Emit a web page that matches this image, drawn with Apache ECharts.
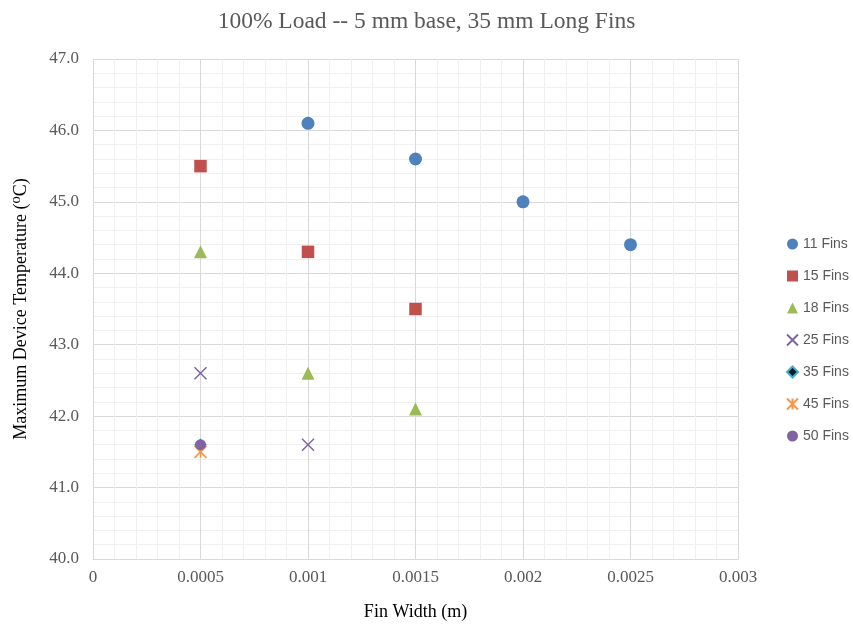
<!DOCTYPE html>
<html>
<head>
<meta charset="utf-8">
<script src="https://cdn.jsdelivr.net/npm/echarts@6/dist/echarts.min.js"></script>
<style>
html,body{margin:0;padding:0;background:#fff;}
#chart{width:853px;height:627px;}
</style>
</head>
<body>
<div id="chart"></div>
<script>
// Fin width (m) and maximum device temperature (°C) for each fin count
const fins11 = [[0.001, 46.1], [0.0015, 45.6], [0.002, 45.0], [0.0025, 44.4]];
const fins15 = [[0.0005, 45.5], [0.001, 44.3], [0.0015, 43.5]];
const fins18 = [[0.0005, 44.3], [0.001, 42.6], [0.0015, 42.1]];
const fins25 = [[0.0005, 42.6], [0.001, 41.6]];
const fins35 = [[0.0005, 41.6]];
const fins45 = [[0.0005, 41.5]];
const fins50 = [[0.0005, 41.6]];
const seriesNames = ['11 Fins', '15 Fins', '18 Fins', '25 Fins', '35 Fins', '45 Fins', '50 Fins'];
const xTicks = [0, 0.0005, 0.001, 0.0015, 0.002, 0.0025, 0.003];

const serif = '"Liberation Serif", "DejaVu Serif", serif';
const sans = '"Liberation Sans", Arial, sans-serif';

const crossPath = 'path://M0,0L10,10M10,0L0,10';
const starPath = 'path://M0,0L10,10M10,0L0,10M5,0L5,10';

const chart = echarts.init(document.getElementById('chart'));
chart.setOption({
  animation: false,
  backgroundColor: '#ffffff',
  title: {
    text: '100% Load -- 5 mm base, 35 mm Long Fins',
    left: 'center',
    top: 5,
    textStyle: { fontFamily: serif, fontSize: 23.5, fontWeight: 'normal', color: '#595959' }
  },
  grid: { left: 93, right: 115, top: 59, bottom: 68 },
  legend: {
    orient: 'vertical',
    left: 781,
    top: 232,
    itemWidth: 11,
    itemHeight: 11,
    itemGap: 18,
    textStyle: { fontFamily: sans, fontSize: 14, lineHeight: 14, color: '#595959' },
    data: seriesNames
  },
  xAxis: {
    type: 'value',
    min: 0,
    max: 0.003,
    interval: 0.0005,
    name: 'Fin Width (m)',
    nameLocation: 'middle',
    nameGap: 44,
    nameTextStyle: { fontFamily: serif, fontSize: 18, color: '#000' },
    axisLine: { show: true, lineStyle: { color: '#d9d9d9' } },
    axisTick: { show: false },
    axisLabel: {
      fontFamily: serif, fontSize: 17, color: '#595959', margin: 10,
      formatter: v => {
        const t = xTicks.find(x => Math.abs(x - v) < 1e-9);
        return t === undefined ? '' : String(t);
      }
    },
    splitLine: { show: true, lineStyle: { color: '#d9d9d9', width: 1 } },
    minorTick: { show: false, splitNumber: 5 },
    minorSplitLine: { show: true, lineStyle: { color: '#f0f0f0', width: 1 } }
  },
  yAxis: {
    type: 'value',
    min: 40,
    max: 47,
    interval: 1,
    name: 'Maximum Device Temperature (⁰C)',
    nameLocation: 'middle',
    nameGap: 63,
    nameTextStyle: { fontFamily: serif, fontSize: 18, color: '#000' },
    axisLine: { show: true, lineStyle: { color: '#d9d9d9' } },
    axisTick: { show: false },
    axisLabel: {
      fontFamily: serif, fontSize: 17, color: '#595959', margin: 14,
      formatter: v => v.toFixed(1)
    },
    splitLine: { show: true, lineStyle: { color: '#d9d9d9', width: 1 } },
    minorTick: { show: false, splitNumber: 5 },
    minorSplitLine: { show: true, lineStyle: { color: '#f0f0f0', width: 1 } }
  },
  series: [
    { name: '11 Fins', type: 'scatter', data: fins11, symbol: 'circle', symbolSize: 13,
      itemStyle: { color: '#4F81BD', opacity: 1 } },
    { name: '15 Fins', type: 'scatter', data: fins15, symbol: 'rect', symbolSize: 12.5,
      itemStyle: { color: '#C0504D', opacity: 1 } },
    { name: '18 Fins', type: 'scatter', data: fins18, symbol: 'triangle', symbolSize: 13,
      itemStyle: { color: '#9BBB59', opacity: 1 } },
    { name: '25 Fins', type: 'scatter', data: fins25, symbol: crossPath, symbolSize: 12,
      itemStyle: { color: 'rgba(0,0,0,0)', borderColor: '#8064A2', borderWidth: 1.5, opacity: 1 } },
    { name: '35 Fins', type: 'scatter', data: fins35, symbol: 'diamond', symbolSize: 11,
      itemStyle: { color: '#0b1f2a', borderColor: '#4BACC6', borderWidth: 1.2, opacity: 1 } },
    { name: '45 Fins', type: 'scatter', data: fins45, symbol: starPath, symbolSize: 12,
      itemStyle: { color: 'rgba(0,0,0,0)', borderColor: '#F79646', borderWidth: 1.5, opacity: 1 } },
    { name: '50 Fins', type: 'scatter', data: fins50, symbol: 'circle', symbolSize: 11,
      itemStyle: { color: '#8064A2', opacity: 1 } }
  ]
});
</script>
</body>
</html>
